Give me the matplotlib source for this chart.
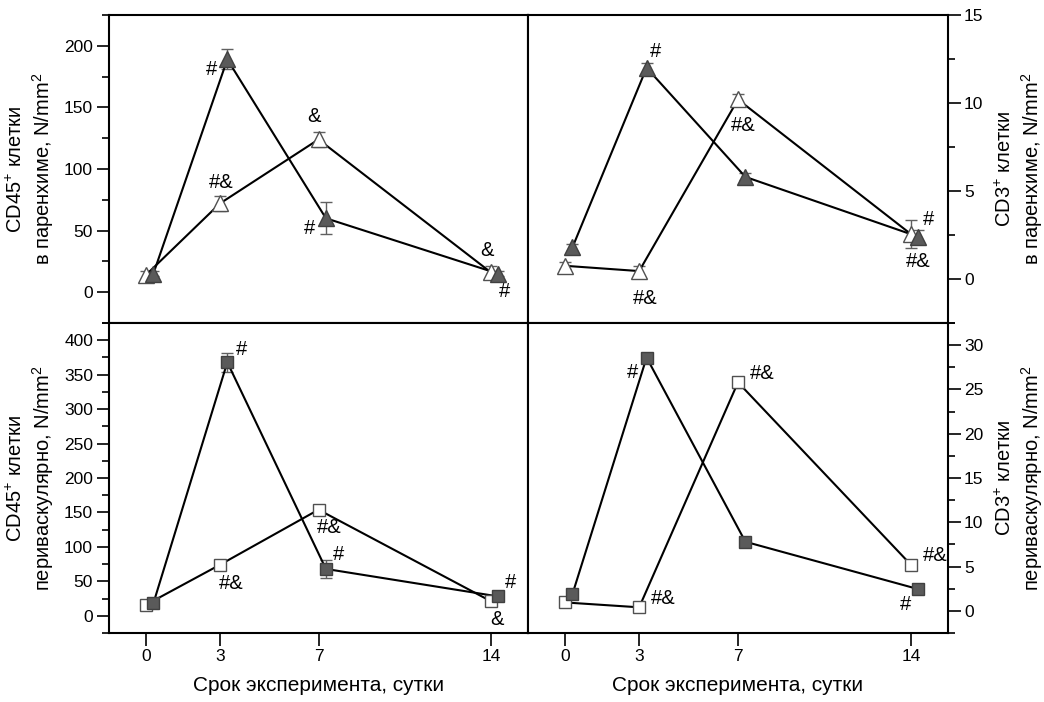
import matplotlib
matplotlib.use('Agg')
import matplotlib.pyplot as plt
from matplotlib.ticker import MultipleLocator

plt.rcParams['font.family'] = ['Liberation Sans', 'DejaVu Sans']
plt.rcParams['mathtext.fontset'] = 'custom'
plt.rcParams['mathtext.rm'] = 'Liberation Sans'
plt.rcParams['mathtext.it'] = 'Liberation Sans:italic'
plt.rcParams['mathtext.bf'] = 'Liberation Sans:bold'

days = [0, 3, 7, 14]
shift = 0.3   # filled series drawn slightly right of the day
day_labels = ['0', '3', '7', '14']

# CD45+ in parenchyma
cd45_par_open = [14, 72, 124, 16]
cd45_par_open_err = [3, 6, 6, 5]
cd45_par_fill = [15, 189, 60, 15]
cd45_par_fill_err = [2, 8, 13, 2]

# CD3+ in parenchyma
cd3_par_open = [0.75, 0.45, 10.2, 2.55]
cd3_par_open_err = [0.2, 0.3, 0.3, 0.8]
cd3_par_fill = [1.8, 12.0, 5.8, 2.4]
cd3_par_fill_err = [0.2, 0.3, 0.2, 0.4]

# CD45+ perivascular
cd45_per_open = [16, 74, 154, 21]
cd45_per_open_err = [6, 5, 5, 3]
cd45_per_fill = [18, 368, 68, 28]
cd45_per_fill_err = [4, 14, 13, 4]

# CD3+ perivascular
cd3_per_open = [0.95, 0.4, 25.8, 5.2]
cd3_per_open_err = [0.5, 0.5, 0.6, 0.3]
cd3_per_fill = [1.9, 28.6, 7.8, 2.45]
cd3_per_fill_err = [0.3, 0.3, 0.3, 0.3]

# significance marks: (series, index, text, dx px, dy px)
marks_tl = [('f', 1, '#', -16, -10), ('o', 1, '#&', 1, 21), ('o', 2, '&', -4, 23),
            ('f', 2, '#', -16, -10), ('o', 3, '&', -4, 22), ('f', 3, '#', 6, -18)]
marks_tr = [('f', 1, '#', 9, 16), ('o', 1, '#&', 6, -27), ('o', 2, '#&', 5, -26),
            ('f', 3, '#', 10, 17), ('o', 3, '#&', 7, -27)]
marks_bl = [('f', 1, '#', 14, 13), ('o', 1, '#&', 11, -19), ('o', 2, '#&', 11, -18),
            ('f', 2, '#', 13, 14), ('f', 3, '#', 12, 14), ('o', 3, '&', 6, -18)]
marks_br = [('f', 1, '#', -14, -15), ('o', 2, '#&', 24, 9), ('o', 1, '#&', 24, 9),
            ('o', 3, '#&', 24, 9), ('f', 3, '#', -13, -15)]

W, H = 1044, 702
fig = plt.figure(figsize=(W / 100, H / 100), dpi=100)


def px_axes(x0, y0, x1, y1):
    return fig.add_axes([x0 / W, 1 - y1 / H, (x1 - x0) / W, (y1 - y0) / H])


ax_tl = px_axes(109, 15, 528, 323)
ax_tr = px_axes(528, 15, 948, 323)
ax_bl = px_axes(109, 323, 528, 633)
ax_br = px_axes(528, 323, 948, 633)

sup = r'$\mathregular{^{+}}$'
sq = r'$\mathregular{^{2}}$'


def draw(ax, yo, yoe, yf, yfe, marker, ms, marks):
    xf = [d + shift for d in days]
    ax.errorbar(days, yo, yerr=yoe, fmt='none', ecolor='#606060', elinewidth=1,
                capsize=4, capthick=1, zorder=2)
    ax.errorbar(xf, yf, yerr=yfe, fmt='none', ecolor='#606060', elinewidth=1,
                capsize=4, capthick=1, zorder=2)
    ax.plot(days, yo, color='black', lw=1.5, zorder=3)
    ax.plot(xf, yf, color='black', lw=1.5, zorder=3)
    ax.plot(days, yo, ls='none', marker=marker, ms=ms, mfc='white',
            mec='#505050', mew=1, zorder=4)
    ax.plot(xf, yf, ls='none', marker=marker, ms=ms, mfc='#5a5a5a',
            mec='#404040', mew=1, zorder=5)
    for s, i, t, dx, dy in marks:
        if s == 'f':
            x, y = xf[i], yf[i]
        else:
            x, y = days[i], yo[i]
        ax.annotate(t, (x, y), xytext=(dx, dy), textcoords='offset pixels',
                    ha='center', va='center', fontsize=14.5)
    ax.set_xlim(-1.5, 15.5)
    for sp in ax.spines.values():
        sp.set_linewidth(1.5)


draw(ax_tl, cd45_par_open, cd45_par_open_err, cd45_par_fill, cd45_par_fill_err, '^', 11, marks_tl)
draw(ax_tr, cd3_par_open, cd3_par_open_err, cd3_par_fill, cd3_par_fill_err, '^', 11, marks_tr)
draw(ax_bl, cd45_per_open, cd45_per_open_err, cd45_per_fill, cd45_per_fill_err, 's', 9, marks_bl)
draw(ax_br, cd3_per_open, cd3_per_open_err, cd3_per_fill, cd3_per_fill_err, 's', 9, marks_br)

ax_tl.set_ylim(-25, 225)
ax_tl.yaxis.set_major_locator(MultipleLocator(50))
ax_tl.yaxis.set_minor_locator(MultipleLocator(25))
ax_tr.set_ylim(-2.5, 15)
ax_tr.yaxis.set_major_locator(MultipleLocator(5))
ax_tr.yaxis.set_minor_locator(MultipleLocator(2.5))
ax_bl.set_ylim(-25, 425)
ax_bl.yaxis.set_major_locator(MultipleLocator(50))
ax_bl.yaxis.set_minor_locator(MultipleLocator(25))
ax_br.set_ylim(-2.5, 32.5)
ax_br.yaxis.set_major_locator(MultipleLocator(5))
ax_br.yaxis.set_minor_locator(MultipleLocator(2.5))

for ax in (ax_tl, ax_tr, ax_bl, ax_br):
    ax.set_xticks(days)
    ax.tick_params(axis='both', which='major', direction='out', length=9, width=1.2,
                   labelsize=12.5, pad=2.5)
    ax.tick_params(axis='y', which='minor', direction='out', length=5, width=1.2)
    ax.tick_params(axis='x', which='minor', bottom=False, top=False)

for ax in (ax_tl, ax_tr):
    ax.tick_params(axis='x', bottom=False, labelbottom=False)
for ax in (ax_bl, ax_br):
    ax.set_xticklabels(day_labels)
    ax.set_xlabel('Срок эксперимента, сутки', fontsize=15, labelpad=9)
for ax in (ax_tr, ax_br):
    ax.yaxis.tick_right()
    ax.yaxis.set_label_position('right')
    ax.tick_params(axis='y', which='both', left=False, right=True)

ax_tl.set_ylabel('CD45' + sup + ' клетки\nв паренхиме, N/mm' + sq, fontsize=14.5, labelpad=6)
ax_bl.set_ylabel('CD45' + sup + ' клетки\nпериваскулярно, N/mm' + sq, fontsize=14.5, labelpad=6)
ax_tr.set_ylabel('CD3' + sup + ' клетки\nв паренхиме, N/mm' + sq, fontsize=14.5,
                 rotation=90, labelpad=8)
ax_br.set_ylabel('CD3' + sup + ' клетки\nпериваскулярно, N/mm' + sq, fontsize=14.5,
                 rotation=90, labelpad=8)

fig.savefig('out.png', dpi=100)
